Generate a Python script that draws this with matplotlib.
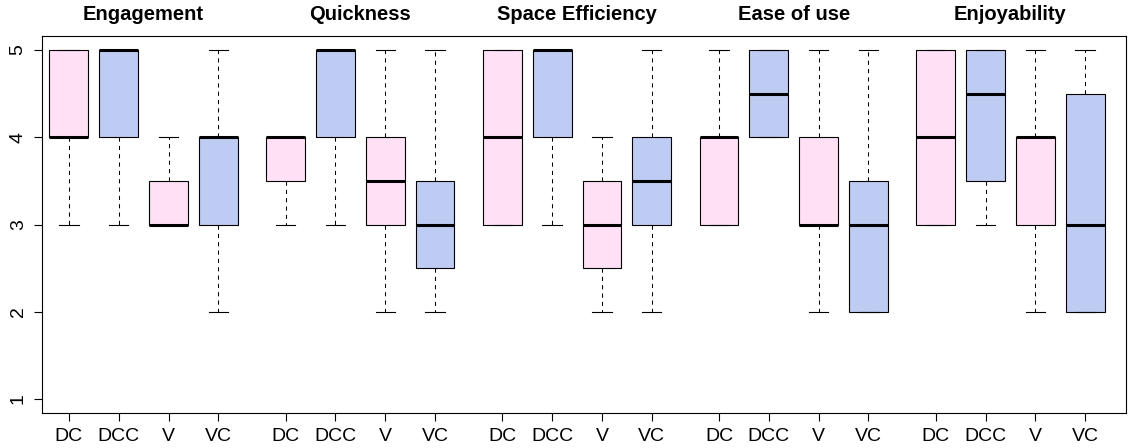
import matplotlib
matplotlib.use("Agg")
from matplotlib import pyplot as plt
from matplotlib.transforms import blended_transform_factory

plt.rcParams['font.family'] = ['Liberation Sans', 'DejaVu Sans']

categories = ['Engagement', 'Quickness', 'Space Efficiency', 'Ease of use', 'Enjoyability']
conditions = ['DC', 'DCC', 'V', 'VC']

# per category, values for DC, DCC, V, VC
whislo = {
    'Engagement':       [3, 3, 3, 2],
    'Quickness':        [3, 3, 2, 2],
    'Space Efficiency': [3, 3, 2, 2],
    'Ease of use':      [3, 4, 2, 2],
    'Enjoyability':     [3, 3, 2, 2],
}
q1 = {
    'Engagement':       [4, 4, 3, 3],
    'Quickness':        [3.5, 4, 3, 2.5],
    'Space Efficiency': [3, 4, 2.5, 3],
    'Ease of use':      [3, 4, 3, 2],
    'Enjoyability':     [3, 3.5, 3, 2],
}
med = {
    'Engagement':       [4, 5, 3, 4],
    'Quickness':        [4, 5, 3.5, 3],
    'Space Efficiency': [4, 5, 3, 3.5],
    'Ease of use':      [4, 4.5, 3, 3],
    'Enjoyability':     [4, 4.5, 4, 3],
}
q3 = {
    'Engagement':       [5, 5, 3.5, 4],
    'Quickness':        [4, 5, 4, 3.5],
    'Space Efficiency': [5, 5, 3.5, 4],
    'Ease of use':      [4, 5, 4, 3.5],
    'Enjoyability':     [5, 5, 4, 4.5],
}
whishi = {
    'Engagement':       [5, 5, 4, 5],
    'Quickness':        [4, 5, 5, 5],
    'Space Efficiency': [5, 5, 4, 5],
    'Ease of use':      [5, 5, 5, 5],
    'Enjoyability':     [5, 5, 5, 5],
}

box_colors = ['#FFE0F5', '#BECBF2', '#FFE0F5', '#BECBF2']
group_step = 4.35

fig = plt.figure(figsize=(11.28, 4.48), dpi=100)
ax = fig.add_axes([42 / 1128, 35 / 448, 1084 / 1128, 377 / 448])

positions, labels, stats, colors = [], [], [], []
for g, cat in enumerate(categories):
    for i, cond in enumerate(conditions):
        positions.append(g * group_step + i)
        labels.append(cond)
        colors.append(box_colors[i])
        stats.append(dict(whislo=whislo[cat][i], q1=q1[cat][i], med=med[cat][i],
                          q3=q3[cat][i], whishi=whishi[cat][i], fliers=[]))

bp = ax.bxp(stats, positions=positions, widths=0.78, capwidths=0.39,
            patch_artist=True, showfliers=False,
            boxprops=dict(edgecolor='black', linewidth=0.8),
            medianprops=dict(color='black', linewidth=2.2),
            whiskerprops=dict(color='black', linewidth=0.75, linestyle=(0, (4, 4))),
            capprops=dict(color='black', linewidth=0.8))
for patch, c in zip(bp['boxes'], colors):
    patch.set_facecolor(c)

ax.set_xlim(-0.54, positions[-1] + 0.82)
ax.set_ylim(0.84, 5.16)
ax.set_yticks([1, 2, 3, 4, 5])
ax.set_yticklabels(['1', '2', '3', '4', '5'], rotation=90, va='center')
ax.set_xticks(positions)
ax.set_xticklabels(labels)
ax.tick_params(axis='both', labelsize=14, length=6, width=0.8, pad=5)
for s in ax.spines.values():
    s.set_linewidth(0.8)

trans = blended_transform_factory(ax.transData, ax.transAxes)
for g, cat in enumerate(categories):
    xc = g * group_step + 1.5
    ax.text(xc, 1.056, cat, transform=trans, ha='center', va='center',
            fontsize=14.5, fontweight='bold')

fig.savefig('out.png', dpi=100)
